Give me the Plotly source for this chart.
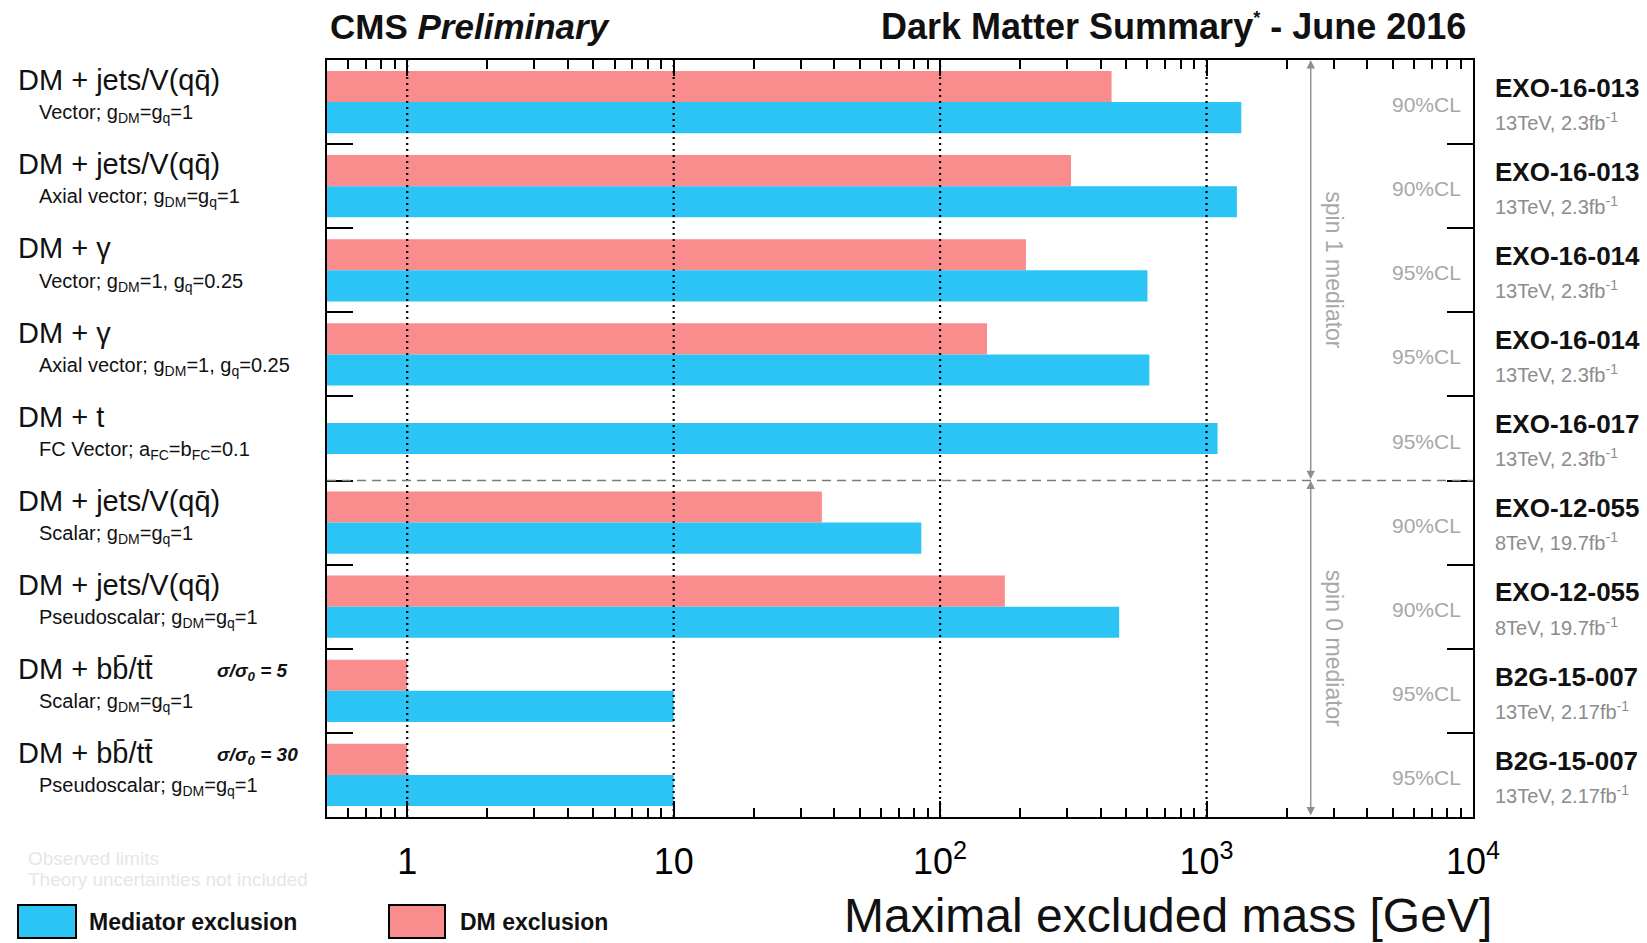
import math
import plotly.graph_objects as go

# ---- data -------------------------------------------------------------
processes = [
    "DM + jets/V(qq̄)",
    "DM + jets/V(qq̄)",
    "DM + γ",
    "DM + γ",
    "DM + t",
    "DM + jets/V(qq̄)",
    "DM + jets/V(qq̄)",
    "DM + bb̄/tt̄",
    "DM + bb̄/tt̄",
]
models = [
    "Vector; g<sub>DM</sub>=g<sub>q</sub>=1",
    "Axial vector; g<sub>DM</sub>=g<sub>q</sub>=1",
    "Vector; g<sub>DM</sub>=1, g<sub>q</sub>=0.25",
    "Axial vector; g<sub>DM</sub>=1, g<sub>q</sub>=0.25",
    "FC Vector; a<sub>FC</sub>=b<sub>FC</sub>=0.1",
    "Scalar; g<sub>DM</sub>=g<sub>q</sub>=1",
    "Pseudoscalar; g<sub>DM</sub>=g<sub>q</sub>=1",
    "Scalar; g<sub>DM</sub>=g<sub>q</sub>=1",
    "Pseudoscalar; g<sub>DM</sub>=g<sub>q</sub>=1",
]
xsec_notes = [None, None, None, None, None, None, None,
              "σ/σ<sub>0</sub> = 5", "σ/σ<sub>0</sub> = 30"]
analyses = ["EXO-16-013", "EXO-16-013", "EXO-16-014", "EXO-16-014", "EXO-16-017",
            "EXO-12-055", "EXO-12-055", "B2G-15-007", "B2G-15-007"]
datasets = ["13TeV, 2.3fb<sup>-1</sup>"] * 5 + ["8TeV, 19.7fb<sup>-1</sup>"] * 2 \
    + ["13TeV, 2.17fb<sup>-1</sup>"] * 2
conf_levels = ["90%CL", "90%CL", "95%CL", "95%CL", "95%CL",
               "90%CL", "90%CL", "95%CL", "95%CL"]

mediator_limit = [1350, 1300, 600, 610, 1100, 85, 470, 10, 10]   # GeV
dm_limit = [440, 310, 210, 150, None, 36, 175, 1, 1]             # GeV

x_tick_vals = [1, 10, 100, 1000, 10000]
x_tick_text = ["1", "10", "10<sup>2</sup>", "10<sup>3</sup>", "10<sup>4</sup>"]
spin_groups = [("spin 1 mediator", -0.5, 4.5), ("spin 0 mediator", 4.5, 8.5)]

# ---- style ------------------------------------------------------------
BLUE = "#2BC4F4"
PINK = "#F98C8C"
FONT = "Liberation Sans, Arial, sans-serif"
GREY_TXT = "#A8A8A8"

FIG_W, FIG_H = 1647, 943
ML, MR, MT, MB = 327, 174, 60, 126
PW = FIG_W - ML - MR
PH = FIG_H - MT - MB


def paper_x(pix):
    return (pix - ML) / PW


def paper_y(pix):
    return (FIG_H - MB - pix) / PH


rows = list(range(len(processes)))
BAR_H = 0.37
# DM bar sits on top half of the row; a lone mediator bar is centred
blue_offset = [-BAR_H / 2 if d is None else 0 for d in dm_limit]

fig = go.Figure()
fig.add_trace(go.Bar(
    y=rows, x=dm_limit, orientation="h", width=BAR_H, offset=-BAR_H,
    marker=dict(color=PINK, line=dict(width=0)), name="DM exclusion",
    showlegend=False, hoverinfo="x",
))
fig.add_trace(go.Bar(
    y=rows, x=mediator_limit, orientation="h", width=BAR_H, offset=blue_offset,
    marker=dict(color=BLUE, line=dict(width=0)), name="Mediator exclusion",
    showlegend=False, hoverinfo="x",
))

minor_vals = [m * 10 ** k for k in range(-1, 4) for m in range(2, 10)
              if 0.5 <= m * 10 ** k <= 10000]

fig.update_layout(
    width=FIG_W, height=FIG_H,
    margin=dict(l=ML, r=MR, t=MT, b=MB, pad=0),
    paper_bgcolor="white", plot_bgcolor="white",
    barmode="overlay",
    font=dict(family=FONT, color="black"),
    xaxis=dict(
        type="log", range=[math.log10(0.5), 4],
        showgrid=False, zeroline=False,
        showline=True, linecolor="black", linewidth=2, mirror="allticks",
        ticks="inside", ticklen=16, tickwidth=2, tickcolor="black",
        tickmode="array", tickvals=x_tick_vals, ticktext=x_tick_text,
        tickfont=dict(size=36, family=FONT, color="black"),
        ticklabelstandoff=12,
        minor=dict(tickmode="array", tickvals=minor_vals, ticks="inside",
                   ticklen=9, tickwidth=1.5, tickcolor="black", showgrid=False),
    ),
    yaxis=dict(
        range=[len(rows) - 0.5, -0.5],
        showgrid=False, zeroline=False,
        showline=True, linecolor="black", linewidth=2, mirror="allticks",
        ticks="inside", ticklen=26, tickwidth=2, tickcolor="black",
        tickmode="array", tickvals=[r + 0.5 for r in rows[:-1]],
        showticklabels=False,
    ),
)

shapes = []
# dotted decade lines over the bars
for v in x_tick_vals[:-1]:
    shapes.append(dict(type="line", xref="x", yref="paper", x0=v, x1=v, y0=0, y1=1,
                       line=dict(color="black", width=2.2, dash="2px,4px"),
                       layer="above"))
# separator between spin-1 and spin-0 mediators
shapes.append(dict(type="line", xref="paper", yref="y", x0=0, x1=1, y0=4.5, y1=4.5,
                   line=dict(color="#7A7A7A", width=1.4, dash="9px,6px"),
                   layer="above"))
# legend boxes
shapes.append(dict(type="rect", xref="paper", yref="paper",
                   x0=paper_x(18), x1=paper_x(76), y0=paper_y(938), y1=paper_y(905),
                   fillcolor=BLUE, line=dict(color="black", width=2)))
shapes.append(dict(type="rect", xref="paper", yref="paper",
                   x0=paper_x(389), x1=paper_x(445), y0=paper_y(938), y1=paper_y(905),
                   fillcolor=PINK, line=dict(color="black", width=2)))

ann = []
# left-hand labels
for i in rows:
    ann.append(dict(xref="paper", yref="y", x=paper_x(16), y=i - 0.26,
                    xanchor="left", yanchor="middle", showarrow=False,
                    text=processes[i], font=dict(size=29, family=FONT, color="#111")))
    ann.append(dict(xref="paper", yref="y", x=paper_x(37), y=i + 0.14,
                    xanchor="left", yanchor="middle", showarrow=False,
                    text=models[i], font=dict(size=20, family=FONT, color="#111")))
    if xsec_notes[i]:
        ann.append(dict(xref="paper", yref="y", x=paper_x(215), y=i - 0.22,
                        xanchor="left", yanchor="middle", showarrow=False,
                        text="<b><i>" + xsec_notes[i] + "</i></b>",
                        font=dict(size=19, family=FONT, color="#111")))
    # right-hand labels
    ann.append(dict(xref="paper", yref="y", x=paper_x(1493), y=i - 0.17,
                    xanchor="left", yanchor="middle", showarrow=False,
                    text="<b>" + analyses[i] + "</b>",
                    font=dict(size=26, family=FONT, color="#111")))
    ann.append(dict(xref="paper", yref="y", x=paper_x(1493), y=i + 0.23,
                    xanchor="left", yanchor="middle", showarrow=False,
                    text=datasets[i], font=dict(size=20, family=FONT, color="#8C8C8C")))
    ann.append(dict(xref="paper", yref="y", x=paper_x(1426), y=i + 0.03,
                    xanchor="center", yanchor="middle", showarrow=False,
                    text=conf_levels[i], font=dict(size=21, family=FONT, color=GREY_TXT)))

# spin-mediator arrows and labels
arrow_x = math.log10(2460)
for label, y_top, y_bot in spin_groups:
    ann.append(dict(xref="x", yref="y", axref="x", ayref="y",
                    x=arrow_x, y=y_top, ax=arrow_x, ay=y_bot,
                    text="", showarrow=True, arrowside="end+start",
                    arrowhead=2, arrowsize=1.2, arrowwidth=1.4,
                    arrowcolor="#8E8E8E", standoff=0, startstandoff=0))
    ann.append(dict(xref="paper", yref="y", x=paper_x(1334), y=(y_top + y_bot) / 2,
                    xanchor="center", yanchor="middle", showarrow=False,
                    text=label, textangle=90,
                    font=dict(size=23, family=FONT, color=GREY_TXT)))

# header
ann.append(dict(xref="paper", yref="paper", x=paper_x(328), y=paper_y(27),
                xanchor="left", yanchor="middle", showarrow=False,
                text="<b>CMS <i>Preliminary</i></b>",
                font=dict(size=35, family=FONT, color="#111")))
ann.append(dict(xref="paper", yref="paper", x=paper_x(1468), y=paper_y(27),
                xanchor="right", yanchor="middle", showarrow=False,
                text="<b>Dark Matter Summary<sup><span style=\"font-size:18px\">*</span></sup>"
                     " - June 2016</b>",
                font=dict(size=36, family=FONT, color="#111")))
# axis title
ann.append(dict(xref="paper", yref="paper", x=paper_x(1494), y=paper_y(915),
                xanchor="right", yanchor="middle", showarrow=False,
                text="Maximal excluded mass [GeV]",
                font=dict(size=48, family=FONT, color="#111")))
# legend text
ann.append(dict(xref="paper", yref="paper", x=paper_x(87), y=paper_y(922),
                xanchor="left", yanchor="middle", showarrow=False,
                text="<b>Mediator exclusion</b>",
                font=dict(size=23, family=FONT, color="#111")))
ann.append(dict(xref="paper", yref="paper", x=paper_x(458), y=paper_y(922),
                xanchor="left", yanchor="middle", showarrow=False,
                text="<b>DM exclusion</b>",
                font=dict(size=23, family=FONT, color="#111")))
# footnote
ann.append(dict(xref="paper", yref="paper", x=paper_x(26), y=paper_y(858),
                xanchor="left", yanchor="middle", showarrow=False,
                text="Observed limits", font=dict(size=19, family=FONT, color="#E6E6E6")))
ann.append(dict(xref="paper", yref="paper", x=paper_x(26), y=paper_y(879),
                xanchor="left", yanchor="middle", showarrow=False,
                text="Theory uncertainties not included",
                font=dict(size=19, family=FONT, color="#E6E6E6")))

fig.update_layout(shapes=shapes, annotations=ann)
fig.write_html("out.html")
